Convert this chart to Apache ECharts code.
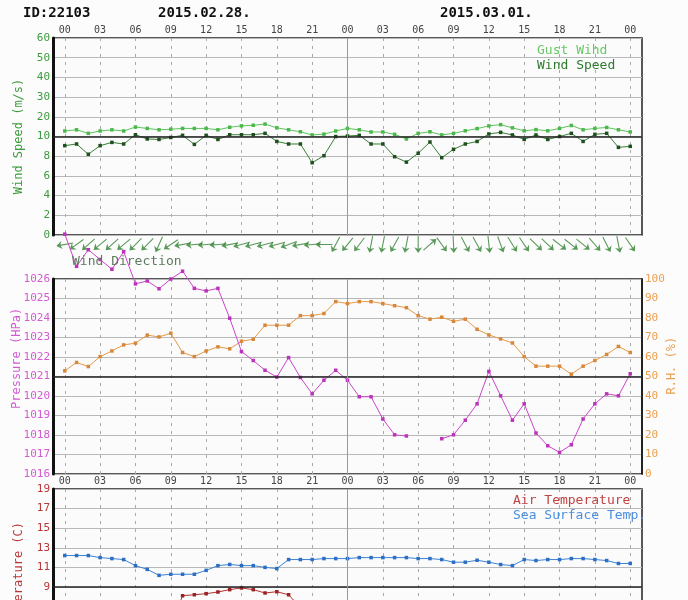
<!DOCTYPE html>
<html>
<head>
<meta charset="utf-8">
<script src="https://cdn.jsdelivr.net/npm/echarts@6/dist/echarts.min.js"></script>
<style>
  html, body { margin: 0; padding: 0; background: #fcfcfc; }
  #main { width: 688px; height: 600px; }
</style>
</head>
<body>
<div id="main"></div>
<script>
// hourly labels, 2015.02.28 00h .. 2015.03.01 24h
var hours = ['00','01','02','03','04','05','06','07','08','09','10','11','12','13','14','15','16','17','18','19','20','21','22','23',
             '00','01','02','03','04','05','06','07','08','09','10','11','12','13','14','15','16','17','18','19','20','21','22','23','00'];
var windTicks = [0, 2, 4, 6, 8, 10, 20, 30, 40, 50, 60];

var gust = [12.8,13.4,11.6,12.8,13.4,12.8,14.8,14.1,13.4,13.7,14.1,14.1,14.1,13.4,14.7,15.4,15.7,16.3,14.4,13.4,12.4,10.8,11.2,12.8,
            14.1,13.4,12.3,12.3,11.1,9.75,11.6,12.4,10.8,11.6,12.9,14.0,15.4,16.0,14.4,12.9,13.5,12.9,14.1,15.6,13.4,14.1,14.6,13.4,12.3];
var wind = [9.07,9.24,8.2,9.07,9.4,9.24,10.9,9.75,9.7,9.9,10.6,9.2,10.6,9.7,10.9,10.9,10.9,11.6,9.5,9.24,9.24,7.34,8.05,10.0,
            10.25,10.6,9.24,9.24,7.95,7.4,8.3,9.44,7.85,8.7,9.24,9.5,11.3,12.1,10.8,9.7,10.8,9.7,10.0,11.6,9.5,11.1,11.6,8.9,9.0];
// direction the wind comes from, degrees
var windDir = [80,54,48,50,48,50,45,45,24,56,80,85,85,85,80,75,75,75,75,70,80,85,90,28,
               39,37,11,11,29,11,360,229,324,357,332,331,354,340,328,326,314,314,308,308,309,319,333,349,326];
var pressure = [1028.3,1026.65,1027.5,1027.0,1026.5,1027.4,1025.75,1025.9,1025.5,1026.0,1026.4,1025.52,1025.39,1025.52,1023.99,1022.28,1021.82,1021.32,1020.97,1021.97,1020.95,1020.11,1020.81,1021.32,
                1020.81,1019.96,1019.96,1018.82,1018.01,1017.95,null,null,1017.81,1018.01,1018.76,1019.6,1021.26,1020.01,1018.76,1019.6,1018.1,1017.45,1017.11,1017.5,1018.82,1019.6,1020.11,1020.01,1021.14];
var rh = [52.9,57.2,55.1,60.2,63.1,66.2,67.1,71.2,70.3,72.2,62.3,60.2,63.1,65.2,64.2,68.1,69.1,76.3,76.3,76.3,81.2,81.2,82.3,88.4,
          87.4,88.4,88.4,87.4,86.3,85.3,81.2,79.4,80.4,78.3,79.4,74.2,71.3,69.3,67.2,60.2,55.3,55.3,55.3,51.2,55.3,58.2,61.3,65.4,62.3];
var airTemp = [null,null,null,null,null,null,null,null,null,5.0,8.11,8.21,8.32,8.49,8.73,8.9,8.73,8.39,8.52,8.21,6.9,
               null,null,null,null,null,null,null,null,null,null,null,null,null,null,null,null,null,null,null,null,null,null,null,null,null,null,null,null];
var sst = [12.21,12.21,12.21,12.0,11.9,11.8,11.18,10.8,10.19,10.3,10.3,10.3,10.7,11.18,11.3,11.18,11.18,11.0,10.88,11.8,11.8,11.8,11.9,11.9,
           11.9,12.0,12.0,12.0,12.0,12.0,11.9,11.9,11.8,11.53,11.53,11.73,11.53,11.29,11.18,11.8,11.7,11.8,11.8,11.9,11.9,11.8,11.7,11.4,11.4];

var FONT = 'DejaVu Sans Mono';
// one empty slot each side of the 48 hours
var cats = [''].concat(hours).concat(['']);

// wind axis: 2 m/s per line up to 10, then 10 m/s per line
function windY(v) { return v <= 10 ? v / 2 : 5 + (v - 10) / 10; }
function tempY(v) { return v + 1; }

function pairs(arr, f) {
  return arr.map(function (v, i) { return [i + 1, v == null ? null : (f ? f(v) : v)]; });
}
function every3(i) { return i >= 1 && i <= 49 && (i - 1) % 3 === 0; }

function xAxisFor(grid, showLabels) {
  return {
    type: 'category', gridIndex: grid, data: cats, boundaryGap: false, position: 'top',
    axisLine: { show: false }, axisTick: { show: false },
    axisLabel: { show: showLabels, interval: function (i) { return every3(i); },
                 color: '#444', fontSize: 10, fontFamily: FONT, margin: 3 },
    splitLine: { show: grid !== 1, interval: function (i) { return every3(i); },
                 lineStyle: { color: '#a8a8a8', type: [3, 5], width: 1 } }
  };
}
var gridSplit = { show: true, lineStyle: { color: '#b8b8b8', width: 1 } };
var leftLine = { show: true, lineStyle: { color: '#111', width: 3 } };

function darkLine(axisVal) {
  return { silent: true, symbol: ['none', 'none'], label: { show: false }, animation: false,
           lineStyle: { color: '#222', type: 'solid', width: 1.5 },
           data: [{ yAxis: axisVal }, { xAxis: 25, lineStyle: { color: '#999', width: 1 } }] };
}

var arrowPath = 'path://M4.4,5 L5.6,5 L5.6,24 L4.4,24 Z M5,0 L9.5,8 L5,5.5 L0.5,8 Z';
var arrows = windDir.map(function (d, i) {
  return { value: [i + 1, 0.5], symbolRotate: -(d + 180) };
});

var panel = { show: true, borderColor: '#222', borderWidth: 1.5, backgroundColor: '#fbfbfb', outerBoundsMode: 'none', containLabel: false };

var chart = echarts.init(document.getElementById('main'));
var option = {
  animation: false,
  backgroundColor: '#fcfcfc',
  textStyle: { fontFamily: FONT },
  grid: [
    Object.assign({ left: 53, top: 38, width: 589, height: 197 }, panel),
    { left: 53, top: 236, width: 589, height: 17, outerBoundsMode: 'none' },
    Object.assign({ left: 53, top: 279, width: 589, height: 195 }, panel),
    Object.assign({ left: 53, top: 489, width: 589, height: 196 }, panel)
  ],
  xAxis: [xAxisFor(0, true), xAxisFor(1, false), xAxisFor(2, false), xAxisFor(3, true)],
  yAxis: [
    { gridIndex: 0, type: 'value', min: 0, max: 10, interval: 1,
      axisLine: leftLine, axisTick: { show: false }, splitLine: gridSplit,
      axisLabel: { color: '#3c9a3c', fontSize: 11, fontFamily: FONT, margin: 3,
                   formatter: function (v) { return String(windTicks[v]); } },
      name: 'Wind Speed (m/s)', nameLocation: 'middle', nameGap: 28, nameRotate: 90, nameMoveOverlap: false,
      nameTextStyle: { color: '#3c9a3c', fontSize: 12, fontFamily: FONT } },
    { gridIndex: 1, type: 'value', min: 0, max: 1, show: false },
    { gridIndex: 2, type: 'value', min: 1016, max: 1026, interval: 1,
      axisLine: leftLine, axisTick: { show: false }, splitLine: gridSplit,
      axisLabel: { color: '#d45ad4', fontSize: 11, fontFamily: FONT, margin: 3,
                   formatter: function (v) { return String(v); } },
      name: '     Pressure (HPa)', nameLocation: 'middle', nameGap: 30, nameRotate: 90, nameMoveOverlap: false,
      nameTextStyle: { color: '#d45ad4', fontSize: 12, fontFamily: FONT } },
    { gridIndex: 2, type: 'value', min: 0, max: 100, interval: 10, position: 'right',
      axisLine: { show: true, lineStyle: { color: '#111', width: 1.5 } }, axisTick: { show: false }, splitLine: { show: false },
      axisLabel: { color: '#eaa050', fontSize: 11, fontFamily: FONT, margin: 3 },
      name: '   R.H. (%)', nameLocation: 'middle', nameGap: 24, nameRotate: 90, nameMoveOverlap: false,
      nameTextStyle: { color: '#eaa050', fontSize: 12, fontFamily: FONT } },
    { gridIndex: 3, type: 'value', min: 0, max: 20, interval: 2,
      axisLine: leftLine, axisTick: { show: false }, splitLine: gridSplit,
      axisLabel: { color: '#b83838', fontSize: 11, fontFamily: FONT, margin: 3,
                   formatter: function (v) { return String(v - 1); } },
      name: '   Temperature (C)', nameLocation: 'middle', nameGap: 28, nameRotate: 90, nameMoveOverlap: false,
      nameTextStyle: { color: '#b83838', fontSize: 12, fontFamily: FONT } }
  ],
  series: [
    { name: 'Gust Wind', type: 'line', xAxisIndex: 0, yAxisIndex: 0, data: pairs(gust, windY),
      symbol: 'rect', symbolSize: 3.5, lineStyle: { color: '#5cc45c', width: 1 }, itemStyle: { color: '#4cb84c' },
      markLine: darkLine(5), z: 3 },
    { name: 'Wind Speed', type: 'line', xAxisIndex: 0, yAxisIndex: 0, data: pairs(wind, windY),
      symbol: 'rect', symbolSize: 3.5, lineStyle: { color: '#3a7e3a', width: 1 }, itemStyle: { color: '#1f4f1f' }, z: 4 },
    { name: 'Wind Direction', type: 'scatter', xAxisIndex: 1, yAxisIndex: 1, data: arrows,
      symbol: arrowPath, symbolSize: [8, 17], symbolKeepAspect: false,
      itemStyle: { color: '#2f7f2f' } },
    { name: 'Pressure', type: 'line', xAxisIndex: 2, yAxisIndex: 2, data: pairs(pressure),
      clip: false, connectNulls: false,
      symbol: 'rect', symbolSize: 3.5, lineStyle: { color: '#cc44cc', width: 1 }, itemStyle: { color: '#bb33bb' },
      markLine: darkLine(1021), z: 4 },
    { name: 'R.H.', type: 'line', xAxisIndex: 2, yAxisIndex: 3, data: pairs(rh),
      symbol: 'rect', symbolSize: 3.5, lineStyle: { color: '#e49a4a', width: 1 }, itemStyle: { color: '#d8873a' }, z: 3 },
    { name: 'Air Temperature', type: 'line', xAxisIndex: 3, yAxisIndex: 4, data: pairs(airTemp, tempY),
      symbol: 'rect', symbolSize: 3.5, lineStyle: { color: '#b83030', width: 1 }, itemStyle: { color: '#992222' }, z: 4 },
    { name: 'Sea Surface Temp.', type: 'line', xAxisIndex: 3, yAxisIndex: 4, data: pairs(sst, tempY),
      symbol: 'rect', symbolSize: 3.5, lineStyle: { color: '#3d82d6', width: 1 }, itemStyle: { color: '#2b6fc4' },
      markLine: darkLine(10), z: 3 }
  ],
  graphic: [
    { type: 'text', left: 23, top: 6, style: { text: 'ID:22103', fill: '#111', font: 'bold 14px "DejaVu Sans Mono"' } },
    { type: 'text', left: 158, top: 6, style: { text: '2015.02.28.', fill: '#111', font: 'bold 14px "DejaVu Sans Mono"' } },
    { type: 'text', left: 440, top: 6, style: { text: '2015.03.01.', fill: '#111', font: 'bold 14px "DejaVu Sans Mono"' } },
    { type: 'text', left: 537, top: 44, z: 10, style: { text: 'Gust Wihd', fill: '#66c866', font: '13px "DejaVu Sans Mono"' } },
    { type: 'text', left: 537, top: 59, z: 10, style: { text: 'Wind Speed', fill: '#2f7a2f', font: '13px "DejaVu Sans Mono"' } },
    { type: 'text', left: 72, top: 255, z: 10, style: { text: 'Wind Direction', fill: '#5e7a5e', font: '13px "DejaVu Sans Mono"' } },
    { type: 'text', left: 513, top: 494, z: 10, style: { text: 'Air Temperature', fill: '#c04444', font: '13px "DejaVu Sans Mono"' } },
    { type: 'text', left: 513, top: 509, z: 10, style: { text: 'Sea Surface Temp.', fill: '#4a8ee0', font: '13px "DejaVu Sans Mono"' } }
  ]
};
chart.setOption(option);
</script>
</body>
</html>
